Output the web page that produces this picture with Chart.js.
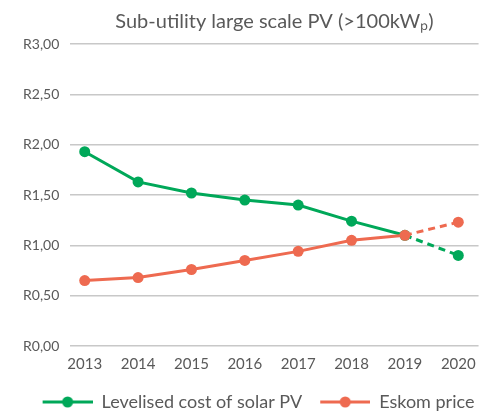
<!DOCTYPE html>
<html>
<head>
<meta charset="utf-8">
<script src="https://cdn.jsdelivr.net/npm/chart.js@4/dist/chart.umd.min.js"></script>
<style>
  html, body { margin: 0; padding: 0; background: #fff; }
  #wrap { width: 485px; height: 411px; }
</style>
</head>
<body>
<div id="wrap"><canvas id="myChart"></canvas></div>
<script>
const years = [2013, 2014, 2015, 2016, 2017, 2018, 2019, 2020];
const solarPV = [1.93, 1.63, 1.52, 1.45, 1.40, 1.24, 1.10, 0.90];
const eskom = [0.65, 0.68, 0.76, 0.85, 0.94, 1.05, 1.10, 1.23];
const yTicks = [0, 0.5, 1, 1.5, 2, 2.5, 3];

const green = "#00a859";
const orange = "#ee6a50";
const grey = "#595959";

const ctx = document.getElementById("myChart");

// legend marker: short line with a dot, with some blank space in front
function legendIcon(color) {
  const c = document.createElement("canvas");
  c.width = 58;
  c.height = 14;
  const g = c.getContext("2d");
  g.strokeStyle = color;
  g.lineWidth = 3;
  g.beginPath();
  g.moveTo(8, 7);
  g.lineTo(58, 7);
  g.stroke();
  g.fillStyle = color;
  g.beginPath();
  g.arc(33, 7, 5.5, 0, Math.PI * 2);
  g.fill();
  return c;
}

// last segment (2019 -> 2020) is a forecast, dashed
const dashLast = (c) => (c.p1DataIndex === years.length - 1 ? [7, 5] : undefined);

function series(values) {
  return values.map((v, i) => ({ x: years[i], y: v }));
}

// nudge the legend a little right, like the original
const legendShift = {
  id: "legendShift",
  afterLayout(chart) {
    const l = chart.legend;
    l.left += 6;
    l.right += 6;
    l.top += 1;
    l.bottom += 1;
  },
};

new Chart(ctx, {
  type: "line",
  data: {
    datasets: [
      {
        label: "Levelised cost of solar PV",
        data: series(solarPV),
        borderColor: green,
        backgroundColor: green,
        borderWidth: 3,
        pointRadius: 5.5,
        pointHoverRadius: 5.5,
        pointBorderWidth: 0,
        order: 1,
        segment: { borderDash: dashLast },
      },
      {
        label: "Eskom price",
        data: series(eskom),
        borderColor: orange,
        backgroundColor: orange,
        borderWidth: 3,
        pointRadius: 5.5,
        pointHoverRadius: 5.5,
        pointBorderWidth: 0,
        order: 0,
        segment: { borderDash: dashLast },
      },
    ],
  },
  plugins: [legendShift],
  options: {
    responsive: true,
    maintainAspectRatio: false,
    animation: false,
    layout: { padding: { left: 12, right: 0, top: 0, bottom: 0 } },
    plugins: {
      tooltip: { enabled: false },
      title: {
        display: true,
        fullSize: false,
        text: "Sub-utility large scale PV (>100kW\u209A)",
        color: grey,
        font: { family: "Lato", size: 20, weight: "normal" },
        padding: { top: 10, bottom: 10 },
      },
      legend: {
        position: "bottom",
        maxHeight: 29,
        labels: {
          color: grey,
          font: { family: "Lato", size: 18 },
          usePointStyle: true,
          pointStyleWidth: 58,
          padding: 10,
          generateLabels: (chart) => {
            const items = Chart.defaults.plugins.legend.labels.generateLabels(chart);
            items.sort((a, b) => a.datasetIndex - b.datasetIndex);
            items.forEach((it) => {
              const ds = chart.data.datasets[it.datasetIndex];
              it.pointStyle = legendIcon(ds.borderColor);
              it.lineWidth = 0;
            });
            return items;
          },
        },
      },
    },
    scales: {
      x: {
        type: "linear",
        min: 2012.73,
        max: 2020.38,
        grid: { display: false, drawTicks: false },
        border: { display: false },
        afterBuildTicks: (axis) => {
          axis.ticks = years.map((v) => ({ value: v }));
        },
        ticks: {
          color: grey,
          font: { family: "Lato", size: 15 },
          padding: 9,
          maxRotation: 0,
          callback: (v) => String(v),
        },
      },
      y: {
        min: 0,
        max: 3,
        afterBuildTicks: (axis) => {
          axis.ticks = yTicks.map((v) => ({ value: v }));
        },
        grid: { color: "#c8c8c8", lineWidth: 1.5, drawTicks: false },
        border: { display: false },
        ticks: {
          color: grey,
          font: { family: "Lato", size: 14 },
          padding: 11,
          callback: (v) => "R" + v.toFixed(2).replace(".", ","),
        },
      },
    },
  },
});
</script>
</body>
</html>
